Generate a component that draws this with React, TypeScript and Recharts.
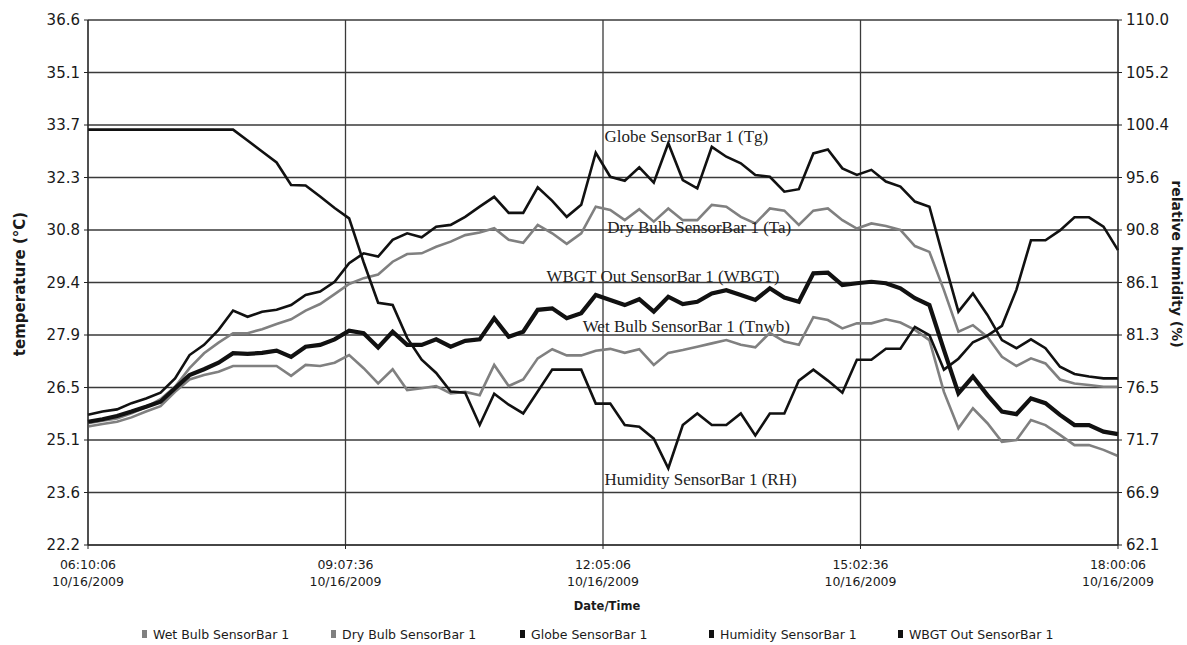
import React from 'react';
import { LineChart, Line, XAxis, YAxis, CartesianGrid, ReferenceDot } from 'recharts';

// readings every 10 minutes from 06:10:06 to 18:00:06 on 10/16/2009
const wetBulb = [
  25.45, 25.52, 25.58, 25.7, 25.86, 26.01, 26.4, 26.74, 26.86, 26.95, 27.11, 27.11,
  27.11, 27.11, 26.84, 27.14, 27.11, 27.2, 27.41, 27.05, 26.63, 27.02, 26.45, 26.5,
  26.56, 26.36, 26.4, 26.31, 27.14, 26.56, 26.74, 27.32, 27.57, 27.4, 27.4, 27.53,
  27.58, 27.47, 27.57, 27.14, 27.47, 27.55, 27.64, 27.73, 27.82, 27.69, 27.62, 28.02,
  27.78, 27.69, 28.45, 28.37, 28.14, 28.28, 28.28, 28.39, 28.3, 28.1, 27.82, 26.4,
  25.4, 25.95, 25.54, 25.03, 25.08, 25.63, 25.49, 25.22, 24.94, 24.94, 24.81, 24.64,
];
const dryBulb = [
  25.54, 25.61, 25.67, 25.81, 25.98, 26.2, 26.54, 27.05, 27.46, 27.75, 28.01, 28.01,
  28.12, 28.26, 28.39, 28.63, 28.81, 29.08, 29.36, 29.52, 29.62, 29.97, 30.18, 30.2,
  30.38, 30.52, 30.7, 30.77, 30.89, 30.57, 30.49, 30.98, 30.75, 30.46, 30.75, 31.48,
  31.39, 31.11, 31.41, 31.07, 31.43, 31.11, 31.11, 31.53, 31.48, 31.2, 31.02, 31.43,
  31.37, 30.98, 31.37, 31.43, 31.11, 30.88, 31.02, 30.95, 30.84, 30.4, 30.24, 29.19,
  28.05, 28.23, 27.91, 27.36, 27.11, 27.32, 27.18, 26.74, 26.63, 26.59, 26.54, 26.54,
];
const globe = [
  25.77, 25.86, 25.92, 26.09, 26.22, 26.38, 26.77, 27.41, 27.69, 28.1, 28.63, 28.46,
  28.6, 28.65, 28.78, 29.06, 29.15, 29.42, 29.93, 30.2, 30.11, 30.57, 30.75, 30.64,
  30.93, 30.98, 31.2, 31.48, 31.75, 31.31, 31.31, 32.01, 31.64, 31.2, 31.53, 32.96,
  32.3, 32.19, 32.56, 32.14, 33.22, 32.21, 31.98, 33.12, 32.85, 32.67, 32.35, 32.3,
  31.89, 31.96, 32.94, 33.05, 32.53, 32.35, 32.49, 32.17, 32.03, 31.62, 31.48, 30.02,
  28.6, 29.1, 28.51, 27.82, 27.6, 27.84, 27.6, 27.09, 26.89, 26.82, 26.77, 26.77,
];
const humidity = [
  100, 100, 100, 100, 100, 100, 100, 100, 100, 100, 100, 99.0,
  98.0, 97.0, 94.95, 94.9, 93.9, 92.85, 91.9, 87.9, 84.2, 84.0, 81.0, 79.0,
  77.8, 76.1, 76.0, 73.05, 75.9, 74.9, 74.1, 76.1, 78.1, 78.1, 78.1, 75.0,
  75.0, 73.05, 72.9, 71.8, 69.1, 73.05, 74.1, 73.05, 73.05, 74.1, 72.1, 74.1,
  74.1, 77.1, 78.1, 77.1, 76.0, 79.0, 79.0, 80.0, 80.0, 82.0, 81.25, 78.1,
  79.1, 80.6, 81.2, 82.1, 85.4, 89.9, 89.9, 90.8, 92.0, 92.0, 91.15, 89.0,
];
const wbgt = [
  25.58, 25.65, 25.74, 25.86, 25.99, 26.13, 26.5, 26.86, 27.02, 27.2, 27.46, 27.44,
  27.47, 27.53, 27.36, 27.64, 27.69, 27.84, 28.08, 28.01, 27.62, 28.05, 27.69, 27.69,
  27.84, 27.64, 27.8, 27.84, 28.42, 27.91, 28.05, 28.65, 28.69, 28.42, 28.56, 29.06,
  28.92, 28.78, 28.94, 28.6, 29.01, 28.81, 28.87, 29.1, 29.19, 29.06, 28.92, 29.24,
  28.99, 28.87, 29.65, 29.67, 29.33, 29.38, 29.42, 29.38, 29.24, 28.97, 28.78, 27.55,
  26.36, 26.82, 26.31, 25.86, 25.79, 26.22, 26.09, 25.77, 25.49, 25.49, 25.31, 25.24,
];

const xTicks = [0, 177.5, 355, 532.5, 710];
const timeLabels = ['06:10:06', '09:07:36', '12:05:06', '15:02:36', '18:00:06'];
const dateLabels = ['10/16/2009', '10/16/2009', '10/16/2009', '10/16/2009', '10/16/2009'];

const leftTicks = [22.2, 23.64, 25.08, 26.52, 27.96, 29.4, 30.84, 32.28, 33.72, 35.16, 36.6];
const leftTickLabels = ['22.2', '23.6', '25.1', '26.5', '27.9', '29.4', '30.8', '32.3', '33.7', '35.1', '36.6'];
const rightTicks = [62.1, 66.89, 71.68, 76.47, 81.26, 86.05, 90.84, 95.63, 100.42, 105.21, 110.0];
const rightTickLabels = ['62.1', '66.9', '71.7', '76.5', '81.3', '86.1', '90.8', '95.6', '100.4', '105.2', '110.0'];

const seriesNames = [
  'Wet Bulb SensorBar 1',
  'Dry Bulb SensorBar 1',
  'Globe SensorBar 1',
  'Humidity SensorBar 1',
  'WBGT Out SensorBar 1',
];

const data = wetBulb.map((_, i) => ({
  t: i * 10,
  wet: wetBulb[i],
  dry: dryBulb[i],
  globe: globe[i],
  rh: humidity[i],
  wbgt: wbgt[i],
}));

const GRAY = '#808080';
const BLACK = '#111111';
const SANS = '"DejaVu Sans", Verdana, sans-serif';
const SERIF = '"Liberation Serif", "Times New Roman", serif';

// in-plot series labels, anchored in data units
const annotations = [
  { text: 'Globe SensorBar 1 (Tg)', x: 356, y: 33.4 },
  { text: 'Dry Bulb SensorBar 1 (Ta)', x: 358, y: 30.9 },
  { text: 'WBGT Out SensorBar 1 (WBGT)', x: 316, y: 29.56 },
  { text: 'Wet Bulb SensorBar 1 (Tnwb)', x: 341, y: 28.19 },
  { text: 'Humidity SensorBar 1 (RH)', x: 356, y: 24.01 },
];

const legendColors = [GRAY, GRAY, BLACK, BLACK, BLACK];

function DateTick(props: any) {
  const { x, y, payload } = props;
  const i = xTicks.indexOf(payload.value);
  return (
    <text x={x} y={y} textAnchor="middle" fontSize={12.5} fill="#1a1a1a" fontFamily={SANS}>
      <tspan x={x} dy={18}>{timeLabels[i]}</tspan>
      <tspan x={x} dy={17}>{dateLabels[i]}</tspan>
    </text>
  );
}

export default function App() {
  const tickStyle = { fontSize: 15, fill: '#1a1a1a', fontFamily: SANS };
  return (
    <div style={{ position: 'fixed', left: 0, top: 0, width: 1187, height: 645, background: '#fff' }}>
      <LineChart width={1187} height={645} data={data} margin={{ top: 20, right: 0, bottom: 0, left: 0 }}>
        <CartesianGrid yAxisId="left" stroke="#3a3a3a" strokeWidth={1.3} />
        <XAxis
          dataKey="t"
          type="number"
          domain={[0, 710]}
          ticks={xTicks}
          interval={0}
          height={100}
          tickSize={4}
          stroke="#222"
          tick={<DateTick />}
          label={{
            content: (p: any) => (
              <text
                x={p.viewBox.x + p.viewBox.width / 2 + 4}
                y={606}
                textAnchor="middle"
                dominantBaseline="central"
                fontSize={11.5}
                fontWeight="bold"
                fontFamily={SANS}
                fill="#1a1a1a"
              >
                Date/Time
              </text>
            ),
          }}
        />
        <YAxis
          yAxisId="left"
          domain={[22.2, 36.6]}
          ticks={leftTicks}
          interval={0}
          width={88}
          tickSize={4}
          tickMargin={4}
          stroke="#222"
          tick={tickStyle}
          tickFormatter={(v: number, i: number) => leftTickLabels[i]}
          label={{
            content: () => (
              <text
                x={20}
                y={284}
                transform="rotate(-90 20 284)"
                textAnchor="middle"
                dominantBaseline="central"
                fontSize={15}
                fontWeight="bold"
                fontFamily={SANS}
                fill="#1a1a1a"
              >
                temperature (°C)
              </text>
            ),
          }}
        />
        <YAxis
          yAxisId="right"
          orientation="right"
          domain={[62.1, 110]}
          ticks={rightTicks}
          interval={0}
          width={69}
          tickSize={4}
          tickMargin={4}
          stroke="#222"
          tick={tickStyle}
          tickFormatter={(v: number, i: number) => rightTickLabels[i]}
          label={{
            content: () => (
              <text
                x={1177}
                y={264}
                transform="rotate(90 1177 264)"
                textAnchor="middle"
                dominantBaseline="central"
                fontSize={14}
                fontWeight="bold"
                fontFamily={SANS}
                fill="#1a1a1a"
              >
                relative humidity (%)
              </text>
            ),
          }}
        />
        <Line yAxisId="left" type="linear" dataKey="wet" name={seriesNames[0]} stroke={GRAY} strokeWidth={2.6} dot={false} isAnimationActive={false} />
        <Line yAxisId="left" type="linear" dataKey="dry" name={seriesNames[1]} stroke={GRAY} strokeWidth={2.6} dot={false} isAnimationActive={false} />
        <Line yAxisId="left" type="linear" dataKey="globe" name={seriesNames[2]} stroke={BLACK} strokeWidth={2.6} dot={false} isAnimationActive={false} />
        <Line yAxisId="right" type="linear" dataKey="rh" name={seriesNames[3]} stroke={BLACK} strokeWidth={2.6} dot={false} isAnimationActive={false} />
        <Line yAxisId="left" type="linear" dataKey="wbgt" name={seriesNames[4]} stroke={BLACK} strokeWidth={4.2} dot={false} isAnimationActive={false} />
        {annotations.map((a) => (
          <ReferenceDot
            key={a.text}
            yAxisId="left"
            x={a.x}
            y={a.y}
            r={1}
            shape={(p: any) => (
              <text
                x={p.cx}
                y={p.cy}
                dominantBaseline="central"
                fontSize={17}
                fontFamily={SERIF}
                fill="#222"
              >
                {a.text}
              </text>
            )}
          />
        ))}
      </LineChart>
      <div style={{ position: 'absolute', left: 142, top: 625, display: 'flex', fontFamily: SANS, fontSize: 12.5, color: '#1a1a1a' }}>
        {seriesNames.map((n, i) => (
          <div key={n} style={{ width: 189, display: 'flex', alignItems: 'center', height: 18 }}>
            <span style={{ display: 'inline-block', width: 5, height: 8, background: legendColors[i], marginRight: 6 }} />
            <span>{n}</span>
          </div>
        ))}
      </div>
    </div>
  );
}
